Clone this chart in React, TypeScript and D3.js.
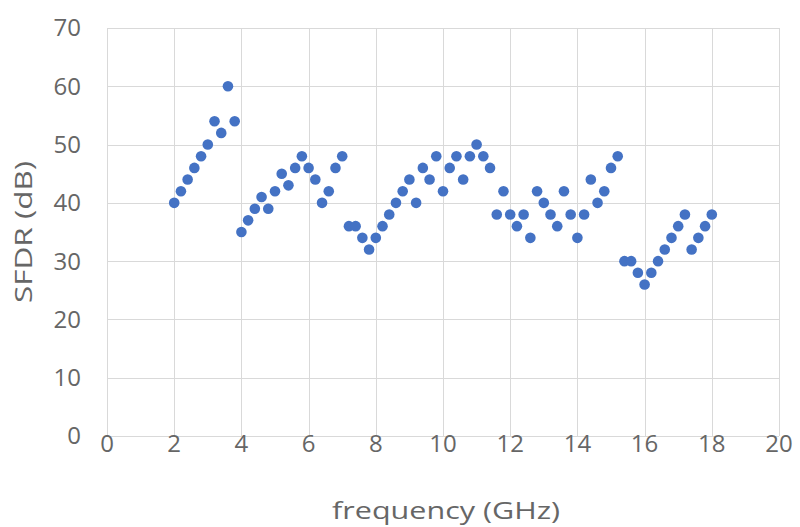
import React from "react";
import * as d3 from "d3";

const freqs: number[] = [
  2.0, 2.2, 2.4, 2.6, 2.8, 3.0, 3.2, 3.4, 3.6, 3.8,
  4.0, 4.2, 4.4, 4.6, 4.8, 5.0, 5.2, 5.4, 5.6, 5.8,
  6.0, 6.2, 6.4, 6.6, 6.8, 7.0, 7.2, 7.4, 7.6, 7.8,
  8.0, 8.2, 8.4, 8.6, 8.8, 9.0, 9.2, 9.4, 9.6, 9.8,
  10.0, 10.2, 10.4, 10.6, 10.8, 11.0, 11.2, 11.4, 11.6, 11.8,
  12.0, 12.2, 12.4, 12.6, 12.8, 13.0, 13.2, 13.4, 13.6, 13.8,
  14.0, 14.2, 14.4, 14.6, 14.8, 15.0, 15.2, 15.4, 15.6, 15.8,
  16.0, 16.2, 16.4, 16.6, 16.8, 17.0, 17.2, 17.4, 17.6, 17.8,
  18.0,
];

const sfdr: number[] = [
  40, 42, 44, 46, 48, 50, 54, 52, 60, 54,
  35, 37, 39, 41, 39, 42, 45, 43, 46, 48,
  46, 44, 40, 42, 46, 48, 36, 36, 34, 32,
  34, 36, 38, 40, 42, 44, 40, 46, 44, 48,
  42, 46, 48, 44, 48, 50, 48, 46, 38, 42,
  38, 36, 38, 34, 42, 40, 38, 36, 42, 38,
  34, 38, 44, 40, 42, 46, 48, 30, 30, 28,
  26, 28, 30, 32, 34, 36, 38, 32, 34, 36,
  38,
];

const xTicks: number[] = [0, 2, 4, 6, 8, 10, 12, 14, 16, 18, 20];
const yTicks: number[] = [0, 10, 20, 30, 40, 50, 60, 70];

const xTitle = "frequency (GHz)";
const yTitle = "SFDR (dB)";

export default function App() {
  const W = 800;
  const H = 527;
  const left = 107;
  const right = 779;
  const top = 28;
  const bottom = 436;

  const x = d3.scaleLinear().domain([0, 20]).range([left, right]);
  const y = d3.scaleLinear().domain([0, 70]).range([bottom, top]);

  const font = "'Open Sans', Lato, sans-serif";
  const textColor = "#666666";
  const gridColor = "#d9d9d9";

  return (
    <svg
      width={W}
      height={H}
      style={{ position: "absolute", left: 0, top: 0, background: "#fff" }}
    >
      <rect x={0} y={0} width={W} height={H} fill="#fff" />
      {yTicks.map((t) => (
        <line
          key={"gy" + t}
          x1={left}
          x2={right}
          y1={Math.round(y(t)) + 0.5}
          y2={Math.round(y(t)) + 0.5}
          stroke={gridColor}
          strokeWidth={1}
        />
      ))}
      {xTicks.map((t) => (
        <line
          key={"gx" + t}
          x1={Math.round(x(t)) + 0.5}
          x2={Math.round(x(t)) + 0.5}
          y1={top}
          y2={bottom}
          stroke={gridColor}
          strokeWidth={1}
        />
      ))}
      {yTicks.map((t) => (
        <text
          key={"ly" + t}
          x={left - 26}
          y={y(t)}
          dy="0.35em"
          textAnchor="end"
          fontFamily={font}
          fontSize={24}
          fill={textColor}
        >
          {t}
        </text>
      ))}
      {xTicks.map((t) => (
        <text
          key={"lx" + t}
          x={x(t)}
          y={bottom + 8}
          dy="0.35em"
          textAnchor="middle"
          fontFamily={font}
          fontSize={24}
          fill={textColor}
        >
          {t}
        </text>
      ))}
      <text
        x={446}
        y={519}
        textAnchor="middle"
        fontFamily={font}
        fontSize={24}
        textLength={228}
        lengthAdjust="spacingAndGlyphs"
        fill={textColor}
      >
        {xTitle}
      </text>
      <text
        transform={`translate(24, ${(top + bottom) / 2}) rotate(-90)`}
        dy="0.35em"
        textAnchor="middle"
        fontFamily={font}
        fontSize={24}
        textLength={142}
        lengthAdjust="spacingAndGlyphs"
        fill={textColor}
      >
        {yTitle}
      </text>
      {freqs.map((f, i) => (
        <circle
          key={"p" + i}
          cx={x(f)}
          cy={y(sfdr[i])}
          r={5.3}
          fill="#4472c4"
        />
      ))}
    </svg>
  );
}
